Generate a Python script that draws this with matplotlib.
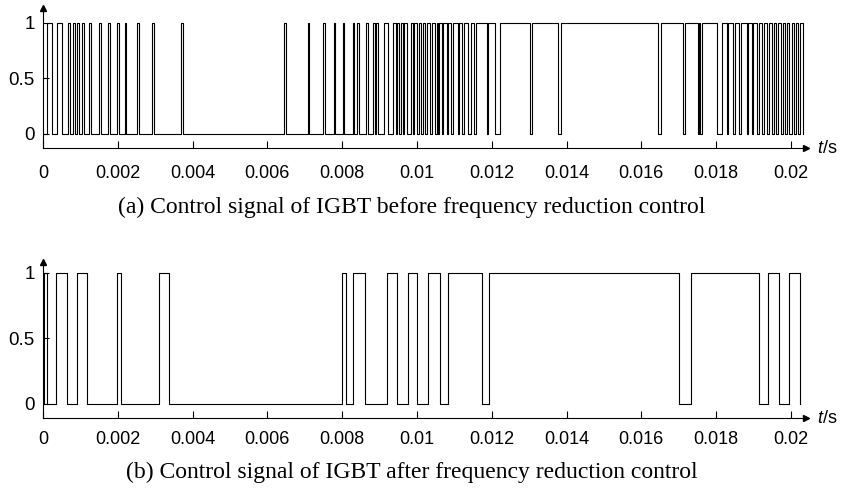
import numpy as np
import matplotlib.pyplot as plt

# 1. switching instants (ms): rising / falling edge
before_on = [0.099, 0.382, 0.676, 0.794, 0.917, 1.043, 1.230, 1.505, 1.730, 1.979,
             2.193, 2.513, 2.922, 3.703, 6.457, 7.086, 7.495, 7.781, 8.029, 8.281,
             8.388, 8.644, 8.832, 8.912, 9.126, 9.366, 9.457, 9.572, 9.660, 9.831,
             9.928, 10.045, 10.152, 10.259, 10.393, 10.527, 10.588, 10.703, 10.821, 10.971,
             11.123, 11.265, 11.444, 11.578, 11.890, 12.219, 13.083, 13.850, 16.516, 17.174,
             17.540, 17.612, 18.147, 18.324, 18.503, 18.655, 18.858, 18.992, 19.136, 19.278,
             19.404, 19.537, 19.652, 19.778, 19.893, 20.019, 20.126, 20.254]
before_off = [0.249, 0.516, 0.722, 0.848, 0.963, 1.088, 1.291, 1.559, 1.783, 2.024,
              2.227, 2.567, 2.968, 3.743, 6.497, 7.112, 7.532, 7.807, 8.056, 8.316,
              8.441, 8.682, 8.869, 8.957, 9.233, 9.430, 9.519, 9.634, 9.725, 9.901,
              10.008, 10.115, 10.222, 10.348, 10.481, 10.561, 10.676, 10.794, 10.909, 11.088,
              11.211, 11.372, 11.532, 11.864, 12.086, 13.021, 13.778, 16.452, 17.120, 17.505,
              17.575, 18.029, 18.281, 18.457, 18.618, 18.816, 18.949, 19.083, 19.225, 19.350,
              19.484, 19.599, 19.725, 19.840, 19.955, 20.072, 20.195, 20.321]
before_end = 20.321

after_on = [0.040, 0.348, 0.901, 1.987, 3.094, 8.003, 8.297, 9.206, 9.751, 10.286,
            10.837, 11.925, 17.318, 19.393, 19.947]
after_off = [0.107, 0.650, 1.184, 2.078, 3.369, 8.094, 8.610, 9.457, 10.008, 10.607,
             11.730, 17.005, 19.152, 19.687, 20.241]
after_end = 20.241

xtick_vals = [0, 0.002, 0.004, 0.006, 0.008, 0.01, 0.012, 0.014, 0.016, 0.018, 0.02]
xtick_labels = ['0', '0.002', '0.004', '0.006', '0.008', '0.01', '0.012', '0.014',
                '0.016', '0.018', '0.02']
ytick_vals = [0, 0.5, 1]
ytick_labels = ['0', '0.5', '1']
captions = ['(a) Control signal of IGBT before frequency reduction control',
            '(b) Control signal of IGBT after frequency reduction control']

# 2. font options
plt.rcParams['font.family'] = 'Liberation Sans'
plt.rcParams['mathtext.fontset'] = 'custom'
plt.rcParams['mathtext.rm'] = 'Liberation Sans'
plt.rcParams['mathtext.it'] = 'Liberation Sans:italic'


def step_wave(on, off, t_end):
    t = [0.0]
    s = [0]
    for a, b in zip(on, off):
        t += [a, a, b, b]
        s += [0, 1, 1, 0]
    t.append(t_end)
    s.append(0)
    return np.array(t) / 1000.0, s


fig = plt.figure(figsize=(8.44, 4.94), dpi=100)
ax1 = fig.add_axes([0.0509, 0.7004, 0.904, 0.2834])
ax2 = fig.add_axes([0.0509, 0.1538, 0.904, 0.3158])

# axes, edges, end time, y range, caption height, label pad
panels = [(ax1, before_on, before_off, before_end, (-0.126, 1.132), 0.580, 12),
          (ax2, after_on, after_off, after_end, (-0.107, 1.082), 0.043, 9)]

for i, (ax, on, off, t_end, ylim, cap_y, xpad) in enumerate(panels):
    t, s = step_wave(on, off, t_end)
    ax.plot(t, s, color='black', linewidth=0.8)

    ax.set_xlim(0, 0.0204)
    ax.set_ylim(*ylim)
    ax.spines['top'].set_visible(False)
    ax.spines['right'].set_visible(False)
    ax.spines['left'].set_linewidth(0.8)
    ax.spines['bottom'].set_linewidth(0.8)

    ax.set_xticks(xtick_vals)
    ax.set_xticklabels(xtick_labels)
    ax.set_yticks(ytick_vals)
    ax.set_yticklabels(ytick_labels)
    ax.tick_params(axis='x', direction='in', length=5, width=0.8, pad=xpad, labelsize=13)
    ax.tick_params(axis='y', direction='in', length=4, width=0.8, pad=6, labelsize=13.5)

    # arrow heads on the axes
    ax.plot(1, ylim[0], '>k', markersize=4, transform=ax.get_yaxis_transform(), clip_on=False)
    ax.plot(0, 1, '^k', markersize=4, transform=ax.transAxes, clip_on=False)
    ax.text(1.014, ylim[0], '$t$/s', transform=ax.get_yaxis_transform(),
            ha='left', va='center', fontsize=13)

    fig.text(0.488, cap_y, captions[i], ha='center', va='center',
             family='Liberation Serif', fontsize=17)

fig.savefig('out.png', dpi=100)
